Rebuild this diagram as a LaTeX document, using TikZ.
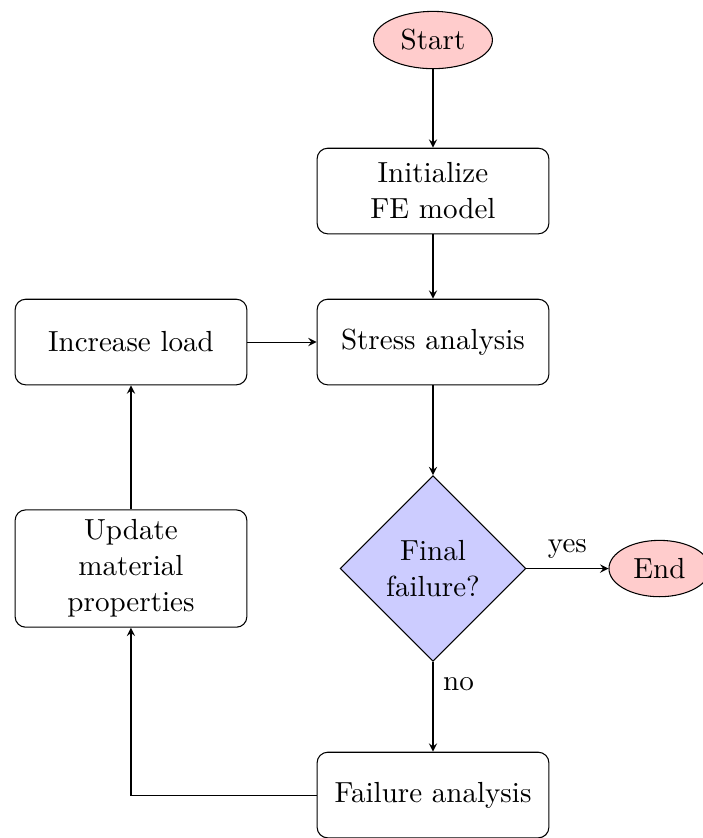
\documentclass[tikz,border=0pt,11pt]{standalone}
\usepackage{xcolor}
\usepackage{tikz}
\usetikzlibrary{arrows.meta,positioning,shapes.geometric}

\begin{document}
\begin{tikzpicture}[>=stealth, on grid,
  term/.style={ellipse, draw, fill=red!20},
  block/.style={rectangle, draw, rounded corners, align=center,
    minimum width=3.07cm, minimum height=1.134cm},
  decision/.style={diamond, draw, fill=blue!20, align=center,
    inner sep=0pt, minimum width=2.46cm, minimum height=2.46cm},
  flow/.style={->}]
\useasboundingbox (-5.735,0.53) rectangle (3.576,-10.569);
\node[term] (start) {Start};
\node[block, below=2cm of start] (init) {Initialize\\FE model};
\node[block, below=2cm of init] (stress) {Stress analysis};
\node[decision, below=3cm of stress] (final) {Final\\failure?};
\node[block, below=3cm of final] (failure) {Failure analysis};
\node[term, right=3cm of final] (finish) {End};
\node[block, left=4cm of stress] (load) {Increase load};
\node[block, left=4cm of final] (update) {Update\\material\\properties};
\draw[flow] (start) -- (init);
\draw[flow] (init) -- (stress);
\draw[flow] (stress) -- (final);
\draw[flow] (final) -- node[above] {yes} (finish);
\draw[flow] (final) -- node[right, pos=0.25] {no} (failure);
\draw[flow] (failure) -| (update);
\draw[flow] (update) -- (load);
\draw[flow] (load) -- (stress);
\end{tikzpicture}
\end{document}
